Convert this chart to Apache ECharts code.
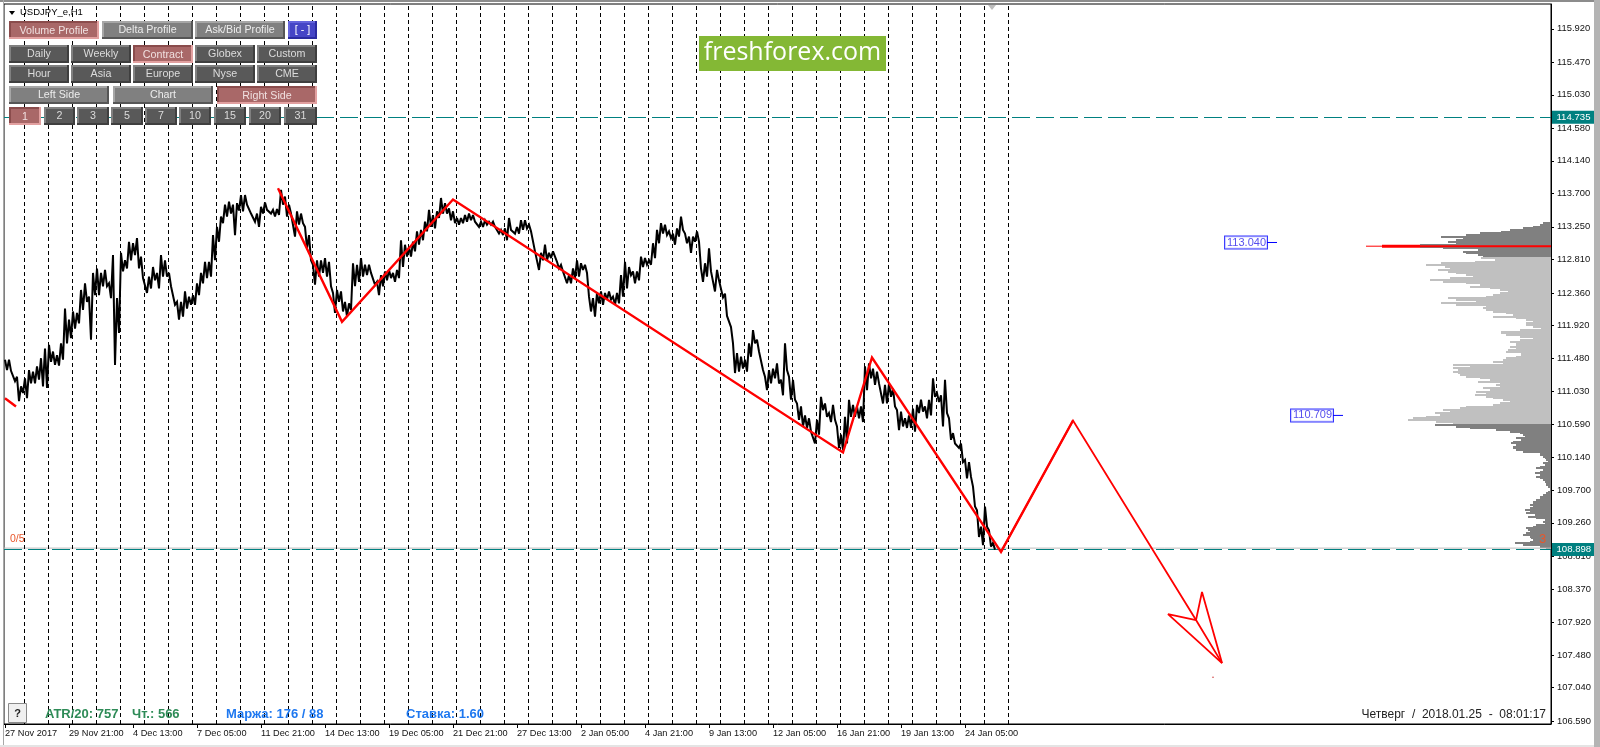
<!DOCTYPE html>
<html><head><meta charset="utf-8">
<style>html,body{margin:0;padding:0;background:#fff}#c{width:1600px;height:747px}</style>
<script src="https://cdn.jsdelivr.net/npm/echarts@6/dist/echarts.min.js"></script>
</head><body><div id="c"></div>
<script>
// ---- axis labels ----
const priceTicks=[115.92,115.47,115.03,114.58,114.14,113.70,113.25,112.81,112.36,111.92,111.48,111.03,110.59,110.14,109.70,109.26,108.81,108.37,107.92,107.48,107.04,106.59];
const timeTickBars=[5,69,133,197,261,325,389,453,517,581,645,709,773,837,901,965];
const timeLabels=['27 Nov 2017','29 Nov 21:00','4 Dec 13:00','7 Dec 05:00','11 Dec 21:00','14 Dec 13:00','19 Dec 05:00','21 Dec 21:00','27 Dec 13:00','2 Jan 05:00','4 Jan 21:00','9 Jan 13:00','12 Jan 05:00','16 Jan 21:00','19 Jan 13:00','24 Jan 05:00'];
const dayLines=[24,48,72,96,120,144,168,192,216,240,264,288,312,336,360,384,408,432,456,480,504,528,552,576,600,624,648,672,696,720,744,768,792,816,840,864,888,912,936,960,984,1008];
// ---- price ribbon: high / low of every 4th bar ----
const firstBar=5, barStep=4;
const barHigh=[
111.46,111.46,111.32,111.23,111.10,111.21,111.32,111.30,111.37,111.48,111.61,111.66,111.57,111.52,111.68,112.15,112.00,112.11,112.09,112.40,112.49,112.31,112.63,112.69,112.63,112.67,112.49,112.87,112.29,112.90,112.80,113.05,113.03,113.10,112.85,112.58,112.58,112.71,112.63,112.87,112.80,112.63,112.45,112.24,112.24,112.38,112.31,112.33,112.49,112.63,112.78,112.78,113.14,113.25,113.39,113.55,113.59,113.55,113.57,113.68,113.68,113.57,113.43,113.43,113.52,113.58,113.50,113.48,113.49,113.75,113.66,113.55,113.43,113.46,113.43,113.25,113.14,112.74,112.80,112.80,112.83,112.78,112.36,112.40,
112.38,112.24,112.22,112.76,112.74,112.83,112.74,112.74,112.65,112.51,112.60,112.65,112.67,112.63,112.67,113.07,113.01,112.98,113.05,113.19,113.21,113.32,113.48,113.41,113.46,113.64,113.57,113.50,113.46,113.37,113.37,113.41,113.43,113.41,113.32,113.32,113.34,113.32,113.32,113.23,113.21,113.23,113.37,113.23,113.25,113.34,113.34,113.28,113.21,112.90,112.90,113.01,112.90,112.92,112.78,112.74,112.63,112.60,112.69,112.80,112.76,112.74,112.31,112.29,112.36,112.38,112.36,112.38,112.31,112.36,112.60,112.78,112.71,112.65,112.65,112.85,112.83,112.80,113.03,113.21,113.30,113.28,113.19,113.16,113.23,113.39,113.16,113.12,113.12,113.19,112.69,112.76,112.96,112.63,112.67,
112.55,112.35,112.05,111.68,111.55,111.50,111.46,111.68,111.86,111.73,111.55,111.23,111.32,111.34,111.41,111.19,111.68,111.23,111.19,110.87,110.83,110.71,110.67,110.51,110.65,110.96,110.87,110.74,110.85,110.56,110.45,110.69,110.92,110.85,110.83,110.83,111.37,111.41,111.34,111.30,111.14,111.12,111.14,111.07,110.78,110.76,110.67,110.71,110.80,110.85,110.92,110.83,110.92,111.21,111.01,110.98,111.19,110.67,110.47,110.33,110.33,110.11,110.08,109.75,109.43,109.21,109.48,109.16,108.99];
const barLow=[
111.32,111.31,111.17,110.90,111.01,110.94,111.14,111.14,111.19,111.10,111.08,111.43,111.39,111.38,111.46,111.68,111.75,111.88,111.95,112.13,112.24,111.73,112.33,112.33,112.45,112.45,112.29,111.39,111.82,112.65,112.69,112.80,112.87,112.69,112.56,112.36,112.42,112.53,112.42,112.58,112.58,112.45,112.20,112.00,112.04,112.15,112.20,112.20,112.33,112.49,112.56,112.58,112.80,113.05,113.30,113.39,113.43,113.14,113.47,113.46,113.55,113.43,113.32,113.25,113.43,113.48,113.43,113.39,113.41,113.55,113.39,113.43,113.12,113.28,113.30,112.96,112.80,112.47,112.58,112.63,112.58,112.45,112.09,112.24,
112.11,112.04,112.13,112.45,112.51,112.58,112.60,112.63,112.47,112.33,112.45,112.53,112.56,112.51,112.56,112.71,112.85,112.85,112.92,113.01,113.07,113.19,113.25,113.23,113.37,113.43,113.43,113.34,113.30,113.28,113.30,113.32,113.34,113.32,113.25,113.25,113.28,113.28,113.25,113.16,113.14,113.07,113.21,113.16,113.16,113.21,113.23,113.19,112.92,112.67,112.80,112.80,112.83,112.85,112.69,112.65,112.49,112.49,112.56,112.58,112.67,112.63,112.11,112.04,112.22,112.20,112.27,112.27,112.20,112.22,112.31,112.42,112.60,112.49,112.53,112.71,112.74,112.74,112.83,113.03,113.16,113.14,113.10,113.01,113.12,113.21,113.03,112.90,113.05,113.05,112.51,112.58,112.65,112.38,112.53,
112.30,112.05,111.90,111.28,111.30,111.34,111.30,111.50,111.68,111.57,111.32,111.05,111.14,111.21,111.14,110.98,111.32,110.92,110.92,110.65,110.56,110.54,110.49,110.33,110.45,110.78,110.69,110.62,110.65,110.27,110.24,110.33,110.69,110.69,110.67,110.62,111.05,111.21,111.12,111.14,110.87,110.87,110.96,110.83,110.51,110.56,110.54,110.54,110.49,110.74,110.76,110.67,110.71,110.96,110.89,110.56,110.74,110.38,110.33,110.27,110.08,109.86,109.88,109.48,109.07,108.96,109.21,108.94,108.90];
// ---- zigzag forecast ----
const leadBars=[5,16], leadPrices=[110.94,110.83];
const zigzagBars=[278,342,453,843,872,1001,1073,1196,1222];
const zigzagPrices=[113.77,111.97,113.62,110.21,111.49,108.87,110.64,107.95,107.37];
const arrowBars=[1196,1168,1222,1202,1196];
const arrowPrices=[107.95,108.03,107.37,108.33,107.95];
const strayDot=[1213,107.18];
// ---- volume profile (contracts per row, top to bottom) ----
const profileTop=113.321, profileRow=0.02247, profileEdge=1551;
const volUpperDark=[1,8,11,18,28,41,50,71,85,110,88,95,103,95,131,131,108,73,88,85,73,68];
const volValueArea=[70,56,76,110,125,106,101,113,103,95,85,78,101,121,108,85,71,81,61,51,43,51,58,65,103,95,75,110,95,65,68,65,58,45,38,58,35,25,18,25,25,18,10,31,50,50,45,31,18,31,41,35,35,41,35,43,45,30,30,35,45,48,58,48,98,81,98,93,98,93,91,85,71,61,73,51,55,51,68,61,75,65,76,65,58,48,41,51,58,85,91,108,101,116,111,125,138,143,115,98];
const volLowerDark=[116,95,81,55,41,31,28,26,35,30,38,40,35,38,38,35,28,11,11,8,6,5,3,8,6,11,15,8,11,16,11,15,11,8,6,5,5,3,1,1,3,5,8,11,11,15,18,18,21,18,21,26,21,25,16,23,15,6,8,6,15,18,25,23,21,25,28,21,20,18,21,36,28,11,5];
// ---- levels ----
const levelHigh=114.735, levelLow=108.898, levelGrey=108.92;
const pocPrice=112.99, pocThinBars=[1366,1382], pocThickBars=[1382,1420], pocBars=[1420,1551];
const tagA={bar:1267,end:1277,price:113.04,text:'113.040'};
const tagB={bar:1333,end:1343,price:110.709,text:'110.709'};
// ---- panel labels ----
const row1=['Volume Profile','Delta Profile','Ask/Bid Profile','[ - ]'];
const row2=['Daily','Weekly','Contract','Globex','Custom'];
const row3=['Hour','Asia','Europe','Nyse','CME'];
const row4=['Left Side','Chart','Right Side'];
const row5=['1','2','3','5','7','10','15','20','31'];

const SANS='"Liberation Sans",Arial,sans-serif';
const ribbon=[];
barHigh.forEach((h,i)=>{const x=firstBar+i*barStep;ribbon.push([x,h]);ribbon.push([x+2,barLow[i]]);});
const zip=(a,b)=>a.map((v,i)=>[v,b[i]]);
function rows(vols,start){return vols.map((v,i)=>[v,profileTop-(start+i)*profileRow]);}
function profile(data,color){return {type:'custom',data,silent:true,z:2,clip:false,animation:false,
  renderItem(p,api){const a=api.coord([profileEdge-api.value(0),api.value(1)]);const b=api.coord([profileEdge,api.value(1)]);
    return {type:'rect',shape:{x:a[0],y:Math.round(a[1]-1),width:b[0]-a[0],height:2},style:{fill:color}};}};}
function seg(data,color,width,z,type){return {type:'line',data,showSymbol:false,symbol:'none',silent:true,animation:false,z:z||5,lineStyle:{color,width,type:type||'solid',join:'miter',miterLimit:3,cap:'butt'}};}
function hLevel(y,tag){return {yAxis:y,lineStyle:{color:'#008080',width:1,type:[18,6]},
  label:{show:true,position:'end',distance:1,formatter:tag,color:'#fff',backgroundColor:'#008080',fontSize:9.6,fontFamily:SANS,padding:[2,4.5,1,4.5]}};}
const g=[];
const KIND={dark:['#595959','#808080','#3f3f3f','#dcdcdc'],grey:['#808080','#a6a6a6','#565656','#ececec'],
  red:['#a96868','#8a4c4c','#e2a0a0','#f0e0e0'],blue:['#4545c6','#6464dc','#2b2ba0','#ffffff']};
function btn(x,y,w,h,text,kind){const k=KIND[kind];const Z=50;
  g.push({type:'rect',z:Z,shape:{x,y,width:w,height:h},style:{fill:k[2]}});
  g.push({type:'rect',z:Z,shape:{x,y,width:w-2,height:h-2},style:{fill:k[1]}});
  g.push({type:'rect',z:Z,shape:{x:x+2,y:y+2,width:w-4,height:h-4},style:{fill:k[0]}});
  g.push({type:'text',z:Z+1,style:{x:x+w/2,y:y+h/2+(kind==='red'?1:0),text,fill:k[3],font:'10.7px '+SANS,align:'center',verticalAlign:'middle'}});}
const rowBtns=(labels,ys,xs,ws,h,active)=>labels.forEach((t,i)=>btn(xs[i],ys,ws[i],h,t,active(i,t)));
rowBtns(row1,21,[9,102,195,288],[90,91,90,29],18,(i)=>i===0?'red':i===3?'blue':'grey');
rowBtns(row2,45,[9,71,133,195,257],[60,60,60,60,60],18,(i)=>i===2?'red':'dark');
rowBtns(row3,65,[9,71,133,195,257],[60,60,60,60,60],18,()=>'dark');
rowBtns(row4,86,[9,113,217],[100,100,100],18,(i)=>i===2?'red':'grey');
rowBtns(row5,107,[9,44,77,111,145,179,214,249,284],[32,31,32,32,32,32,32,32,33],18,(i)=>i===0?'red':'dark');
const T=(x,y,text,fill,font,align,z)=>g.push({type:'text',z:z||40,style:{x,y,text,fill,font,align:align||'left',verticalAlign:'middle'}});
// title
g.push({type:'polygon',z:40,shape:{points:[[9,11],[15,11],[12,15]]},style:{fill:'#000'}});
T(20,12.5,'USDJPY_e,H1','#000','9.5px '+SANS);
// logo
g.push({type:'rect',z:45,shape:{x:699,y:36,width:187,height:35},style:{fill:'#84b835'}});
T(792.5,53,'freshforex.com','#fff','25px "Open Sans",sans-serif','center',46);
// frame pieces
g.push({type:'rect',z:60,shape:{x:0,y:0,width:1600,height:2},style:{fill:'#8c8c8c'}});
g.push({type:'rect',z:60,shape:{x:3,y:0,width:1,height:747},style:{fill:'#a8a8a8'}});
g.push({type:'rect',z:60,shape:{x:1594,y:0,width:6,height:747},style:{fill:'#b4b4b4'}});
g.push({type:'rect',z:60,shape:{x:0,y:745,width:1594,height:2},style:{fill:'#e4e4e4'}});
g.push({type:'polygon',z:40,shape:{points:[[988,5],[996,5],[992,10]]},style:{fill:'#bdbdbd'}});
// help button
g.push({type:'rect',z:40,shape:{x:8.5,y:703.5,width:18,height:19},style:{fill:'#f0f0f0',stroke:'#8a8a8a',lineWidth:1}});
T(17.5,714,'?','#222','bold 11px '+SANS,'center',41);
// status text
T(45,714.5,'ATR/20: 757','#2e8b57','bold 13px '+SANS);
T(132,714.5,'Чт.: 566','#2e8b57','bold 13px '+SANS);
T(226,714.5,'Маржа: 176 / 88','#1e78f0','bold 13px '+SANS);
T(406,714.5,'Ставка: 1.60','#1e78f0','bold 13px '+SANS);
T(1546,714.5,'Четверг  /  2018.01.25  -  08:01:17','#222','12px '+SANS,'right');
T(10,539,'0/5','#e8562a','10.5px '+SANS);
T(1539,539.5,'3','#e8562a','13px '+SANS);

const chart=echarts.init(document.getElementById('c'),null,{renderer:'canvas'});
chart.setOption({
  animation:false,backgroundColor:'#fff',
  grid:{left:4,right:49,top:4,bottom:23,show:true,borderColor:'#000',borderWidth:1,backgroundColor:'#fff',containLabel:false},
  xAxis:{type:'value',min:4,max:1551,splitLine:{show:false},
    axisLine:{show:true,lineStyle:{color:'#000'}},
    axisTick:{show:true,length:4,inside:false,lineStyle:{color:'#000'},customValues:timeTickBars},
    axisLabel:{show:true,customValues:timeTickBars,align:'left',margin:5,color:'#111',fontSize:9.2,fontFamily:SANS,hideOverlap:false,
      formatter:v=>timeLabels[timeTickBars.indexOf(v)]||''}},
  yAxis:{type:'value',position:'right',min:106.549,max:116.255,scale:true,splitLine:{show:false},
    axisLine:{show:true,onZero:false,lineStyle:{color:'#000'}},
    axisTick:{show:true,length:3,lineStyle:{color:'#000'},customValues:priceTicks},
    axisLabel:{show:true,customValues:priceTicks,margin:6,align:'left',color:'#111',fontSize:9.4,fontFamily:SANS,hideOverlap:false,
      formatter:v=>v.toFixed(3)}},
  graphic:{elements:g},
  series:[
    {type:'line',data:[],silent:true,z:1,markLine:{silent:true,symbol:'none',animation:false,label:{show:false},
      lineStyle:{color:'#000',width:1,type:[4,3]},data:dayLines.map(v=>({xAxis:v+0.5}))}},
    profile(rows(volUpperDark,0),'#808080'),
    profile(rows(volValueArea,volUpperDark.length),'#c0c0c0'),
    profile(rows(volLowerDark,volUpperDark.length+volValueArea.length),'#808080'),
    seg([[4,levelGrey],[1551,levelGrey]],'#bcbcbc',1,3),
    {type:'line',data:[],silent:true,z:4,markLine:{silent:true,symbol:'none',animation:false,data:[hLevel(levelHigh,'114.735'),hLevel(levelLow,'108.898')]}},
    seg(ribbon,'#000',2,6),
    seg(zip(leadBars,leadPrices),'#ff0000',2.4,7),
    seg(zip(zigzagBars.slice(0,7),zigzagPrices.slice(0,7)),'#ff0000',2.4,7),
    seg(zip(zigzagBars.slice(5),zigzagPrices.slice(5)),'#ff0000',1.8,7),
    seg(zip(arrowBars,arrowPrices),'#ff0000',1.8,7),
    {type:'scatter',data:[strayDot],symbolSize:1.5,itemStyle:{color:'#c00000'},silent:true,z:7},
    seg(pocThinBars.map(b=>[b,pocPrice]),'#ff0000',1,8),
    seg(pocThickBars.map(b=>[b,pocPrice]),'#ff0000',3,8),
    seg(pocBars.map(b=>[b,pocPrice]),'#ff0000',2,8),
    seg([[tagA.bar,tagA.price],[tagA.end,tagA.price]],'#0000ff',1,8),
    seg([[tagB.bar,tagB.price],[tagB.end,tagB.price]],'#0000ff',1,8),
    {type:'scatter',symbolSize:0,silent:true,z:9,data:[[tagA.bar,tagA.price,tagA.text],[tagB.bar,tagB.price,tagB.text]],
      label:{show:true,position:'left',distance:0,formatter:p=>p.data[2],color:'#2a20e8',fontSize:11,fontFamily:SANS,backgroundColor:'#fff',borderColor:'#0000ff',borderWidth:1,padding:[1,1,0,2]}}
  ]
});
</script></body></html>
